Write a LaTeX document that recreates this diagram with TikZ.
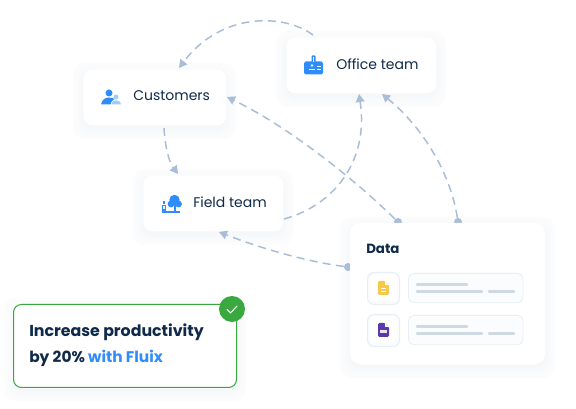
\documentclass[tikz,border=0pt]{standalone}
\usepackage{fontspec}
\setmainfont{Poppins}
\usetikzlibrary{arrows.meta,positioning,calc}
\definecolor{ink}{HTML}{0F2A4A}
\definecolor{flow}{HTML}{A9BDD6}
\definecolor{bluei}{HTML}{2F8CFB}
\definecolor{bluel}{HTML}{9CCBFD}
\definecolor{okgreen}{HTML}{38A83F}
\definecolor{docy}{HTML}{F7C84B}
\definecolor{docp}{HTML}{5B3AA8}
\definecolor{rowb}{HTML}{E8EEF6}
\definecolor{rowf}{HTML}{FBFCFE}
\definecolor{bar}{HTML}{CFD9E4}
\definecolor{shade1}{HTML}{FCFCFD}
\definecolor{shade2}{HTML}{FAFBFC}
\definecolor{shade3}{HTML}{F8F9FB}
\definecolor{shade4}{HTML}{F6F7F9}
\tikzset{
  x=0.75pt,y=-0.75pt,
  card/.style={rectangle,rounded corners=7pt,fill=white,inner sep=0pt,anchor=north west},
  label/.style={font=\fontsize{10.5pt}{12pt}\selectfont,text=ink,anchor=west,inner sep=0pt},
  flowline/.style={draw=flow,line width=1.1pt,dash pattern=on 6pt off 4pt,-{Triangle[length=6pt,width=6.5pt,fill=flow]}},
  flowdot/.style={circle,fill=flow,inner sep=0pt,minimum size=6pt},
  rowbox/.style={rectangle,rounded corners=4pt,draw=rowb,line width=0.6pt,fill=rowf,inner sep=0pt,minimum width=86pt,minimum height=22pt,anchor=north west},
  iconbox/.style={rectangle,rounded corners=5pt,draw=rowb,line width=0.8pt,fill=rowf,inner sep=0pt,minimum width=24pt,minimum height=24pt,anchor=north west},
  iconinner/.style={rectangle,rounded corners=4pt,fill=white,inner sep=0pt,minimum width=20pt,minimum height=20pt},
  barline/.style={draw=bar,line width=2pt,line cap=round},
}
% soft shadow bands, opaque and very pale: x,y top-left and width,height in px
\newcommand{\softshadow}[4]{%
  \foreach \g/\c in {10/shade1,7/shade2,4/shade3,1/shade4}{
    \fill[\c,rounded corners=9pt]
      ({#1-\g},{#2-\g+4}) rectangle ({#1+#3+\g},{#2+#4+\g+4});
  }}
\begin{document}
\begin{tikzpicture}
\useasboundingbox (0,0) rectangle (576,409);
\fill[white] (0,0) rectangle (576,409);

% shadows
\softshadow{83}{69}{143}{56}
\softshadow{286}{37}{150}{56}
\softshadow{143}{175}{140}{56}
\softshadow{350}{223}{195}{141}
\softshadow{13}{304}{223}{83}

% dots sit behind the data card
\node[flowdot] (dotA) at (398,222) {};
\node[flowdot] (dotB) at (458,222) {};
\node[flowdot] (dotC) at (348,267) {};

% cards
\node[card,minimum width=107.25pt,minimum height=42pt] (customers) at (83,69) {};
\node[card,minimum width=112.5pt,minimum height=42pt] (office) at (286,37) {};
\node[card,minimum width=105pt,minimum height=42pt] (field) at (143,175) {};
\node[card,minimum width=146.25pt,minimum height=106pt,rounded corners=10pt] (data) at (350,223) {};

% connector end points
\coordinate (officeTop) at (313,35);
\coordinate (custTop) at (179,68);
\coordinate (custRight) at (227,97);
\coordinate (custBottom) at (164,128);
\coordinate (fieldTop) at (178,174);
\coordinate (fieldRight) at (284,219);
\coordinate (fieldBottom) at (219,232);
\coordinate (officeBotA) at (359,94);
\coordinate (officeBotB) at (382,94);

% connectors
\draw[flowline] (officeTop) .. controls (285,14) and (222,11) .. (custTop);
\draw[flowline] (custBottom) .. controls (165,147) and (169,162) .. (fieldTop);
\draw[flowline] (dotA) .. controls (350,175) and (285,125) .. (custRight);
\draw[flowline] (dotB) .. controls (450,170) and (420,125) .. (officeBotB);
\draw[flowline] (dotC) .. controls (310,262) and (265,250) .. (fieldBottom);
\draw[flowline] (fieldRight) .. controls (335,205) and (369,160) .. (officeBotA);

% redraw the data card edge over the line starts
\fill[white,rounded corners=7.5pt] (350,223) rectangle (545,364);

% Customers icon
\fill[bluei] (109,93) circle (3.5);
\fill[bluei] (101,104.5) .. controls (102,99) and (106,97.5) .. (109,97.5) .. controls (111,97.5) and (113,98) .. (114.5,99) .. controls (112,100) and (111,102) .. (110.5,104.5) -- cycle;
\fill[bluel] (116,97) circle (2.4);
\fill[bluel] (111.5,104.5) .. controls (112,101) and (114,100.5) .. (116,100.5) .. controls (118,100.5) and (120.5,101) .. (121,104.5) -- cycle;
\node[label] (customersText) at (133,96) {Customers};

% Office icon
\fill[bluei,rounded corners=1.2pt] (304,61.5) rectangle (323,74.5);
\fill[bluei,rounded corners=0.6pt] (311.5,55.5) rectangle (315.5,63);
\fill[white] (312.7,57) rectangle (314.3,62.5);
\fill[white] (312,65.5) circle (1.3);
\draw[white,line width=0.7pt] (309,69.5) -- (315,69.5);
\draw[white,line width=0.7pt] (317,66.5) -- (320.5,66.5);
\draw[white,line width=0.7pt] (317,69.5) -- (320.5,69.5);
\node[label] (officeText) at (336,64) {Office team};

% Field icon
\fill[bluei] (174.5,200) circle (5.2);
\fill[bluei] (171,204) circle (3.4);
\fill[bluei] (178.5,204) circle (3.4);
\fill[bluei] (173.5,204) rectangle (175.5,212);
\fill[bluei] (162,211.5) rectangle (180,213);
\fill[bluei] (162,205) rectangle (166,212);
\fill[bluei] (163,201.5) rectangle (165,203.7);
\fill[white] (163.4,206.5) rectangle (164.6,209);
\node[label] (fieldText) at (193,202) {Field team};

% Data card content
\node[font=\fontsize{10pt}{12pt}\selectfont\bfseries,text=ink,anchor=west,inner sep=0pt] (dataTitle) at (366,249) {Data};
\node[iconbox] (iconA) at (367,272) {};
\node[iconbox] (iconB) at (367,314) {};
\node[iconinner] at ($(iconA)+(0,-1)$) {};
\node[iconinner] at ($(iconB)+(0,-1)$) {};
\node[rowbox] (rowA) at (408,273) {};
\node[rowbox] (rowB) at (408,315) {};
\draw[barline] (417,284.3) -- (467,284.3);
\draw[barline] (417,291.3) -- (482,291.3);
\draw[barline] (489,291.3) -- (514,291.3);
\draw[barline] (417,326.3) -- (467,326.3);
\draw[barline] (417,333.3) -- (482,333.3);
\draw[barline] (489,333.3) -- (514,333.3);
% doc icons
\fill[docy,rounded corners=1pt] (378,281) -- (385,281) -- (389,285) -- (389,295) -- (378,295) -- cycle;
\draw[white,line width=0.6pt] (381,288.5) -- (386,288.5) (381,291.5) -- (386,291.5);
\fill[white] (385,281) -- (389,285) -- (385,285) -- cycle;
\fill[docp,rounded corners=1pt] (378,323) -- (385,323) -- (389,327) -- (389,337) -- (378,337) -- cycle;
\fill[white] (385,323) -- (389,327) -- (385,327) -- cycle;
\fill[white!85!docp] (380,330) rectangle (387,333.5);

% Callout
\node[card,draw=okgreen,line width=0.75pt,minimum width=167.25pt,minimum height=62.25pt,rounded corners=6pt] (callout) at (13,304) {};
\node[font=\fontsize{11.85pt}{14pt}\selectfont\bfseries,text=ink,anchor=west,inner sep=0pt] (calloutA) at (29,332) {Increase productivity};
\node[font=\fontsize{11.55pt}{14pt}\selectfont\bfseries,text=ink,anchor=west,inner sep=0pt] (calloutB) at (29,358) {by 20\% \textcolor{bluei}{with Fluix}};
\node[circle,fill=okgreen,inner sep=0pt,minimum size=19.5pt] (badge) at (232,309) {};
\draw[white,line width=0.8pt,line cap=round,line join=round] (227,309.5) -- (230.5,313) -- (237,306);
\end{tikzpicture}
\end{document}
